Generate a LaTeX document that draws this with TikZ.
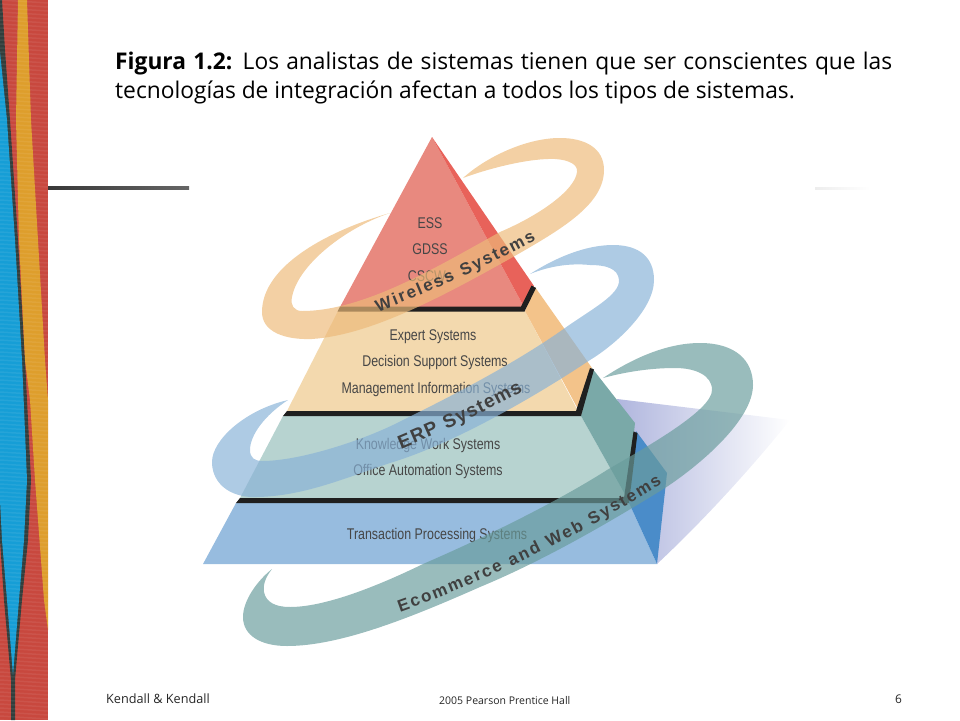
\documentclass[tikz,border=0pt]{standalone}
\usepackage{fontspec}
\setmainfont[FakeStretch=0.99]{Open Sans}
\newfontfamily\narrowfont[FakeStretch=0.80]{Liberation Sans}
\newfontfamily\ribbonfont{Liberation Sans}
\usetikzlibrary{decorations.text}
\definecolor{redfront}{RGB}{232,137,127}
\definecolor{redside}{RGB}{232,98,90}
\definecolor{orangefront}{RGB}{243,217,174}
\definecolor{orangeside}{RGB}{243,195,138}
\definecolor{tealfront}{RGB}{183,211,208}
\definecolor{tealside}{RGB}{122,169,168}
\definecolor{bluefront}{RGB}{151,188,223}
\definecolor{blueside}{RGB}{74,140,201}
\definecolor{shadowleft}{RGB}{176,182,222}
\definecolor{shadowmid}{RGB}{228,229,240}
\definecolor{wirelessband}{RGB}{237,186,121}
\definecolor{erpband}{RGB}{136,178,215}
\definecolor{ecomband}{RGB}{105,156,156}
\definecolor{clothred}{RGB}{200,72,62}
\definecolor{clothyellow}{RGB}{222,158,44}
\definecolor{clothblue}{RGB}{22,158,214}
\definecolor{clothdark}{RGB}{50,62,60}
\definecolor{labeltext}{RGB}{70,70,70}
\begin{document}
\begin{tikzpicture}[x=1pt,y=-1pt,
	pyrlabel/.style={text=labeltext,inner sep=0pt,font=\narrowfont\fontsize{15.5}{15.5}\selectfont},
	titleline/.style={anchor=base west,inner sep=0pt,font=\fontsize{23}{23}\selectfont},
	footer/.style={anchor=west,inner sep=0pt,text=black!85},
	ribbonlabel/.style 2 args={decorate,decoration={text along path,text align=fit to path,text color=black!75,text={|\ribbonfont\bfseries\fontsize{#1}{#1}\selectfont|#2}}},
	band/.style={fill=#1,fill opacity=.68}]
	\useasboundingbox (0,0) rectangle (960,720);
	\fill[clothred] (0,0) rectangle (48,720);
	\fill[clothdark] (0,0) -- (2,0) -- (5,50) -- (10,120) -- (18,240) -- (25,360) -- (31,480) -- (28,540) -- (22,600) -- (15,680) -- (15,720) -- (11,720) -- (11,680) -- (4,600) -- (0,540) -- (0,52) -- cycle;
	\fill[clothblue] (0,52) -- (7,120) -- (15,240) -- (22,360) -- (27,480) -- (24,540) -- (19,600) -- (13,675) -- (7,600) -- (2,540) -- (0,500) -- cycle;
	\fill[clothyellow] (18,0) -- (27,0) -- (31,120) -- (38,240) -- (45,360) -- (48,400) -- (48,630) -- (44,600) -- (35,480) -- (30,400) -- (25,360) -- (19,240) -- (16,120) -- cycle;
	\foreach \y in {0,4,...,720}
		\draw[white,opacity=.07,line width=1.5pt] (0,\y) -- (48,\y+3);
	\shade[left color=black!78,right color=black!60] (48,186.5) rectangle (189,189.5);
	\shade[left color=black!7,right color=white] (815,187) rectangle (870,189);

	\node[titleline] (title1) at (115,69) {\makebox[777pt][s]{\textbf{Figura 1.2:} Los analistas de sistemas tienen que ser conscientes que las}};
	\node[titleline] (title2) at (115,98) {tecnologías de integración afectan a todos los tipos de sistemas.};

	\shade[left color=shadowleft,middle color=shadowmid,right color=white] (617,399) -- (790,420) .. controls (770,445) and (720,505) .. (657,564) -- cycle;
	\fill[redfront] (432,137) -- (524,307) -- (340,307) -- cycle;
	\fill[redside] (432,137) -- (534,286) -- (524,307) -- cycle;
	\fill[orangefront] (338,311) -- (525,311) -- (578,411) -- (287,411) -- cycle;
	\fill[orangeside] (535,287) -- (592,368) -- (579,411) -- (525,311) -- cycle;
	\fill[tealfront] (283,416) -- (581,416) -- (627,498) -- (240,498) -- cycle;
	\fill[tealside] (592,368) -- (635,423) -- (627,498) -- (581,416) -- cycle;
	\fill[bluefront] (236,503) -- (629,503) -- (657,564) -- (203,564) -- cycle;
	\fill[blueside] (636,431) -- (667,473) -- (657,564) -- (629,503) -- cycle;
	\fill[black!88] (340,306.5) -- (521,306.5) -- (531.5,285.5) -- (536,288) -- (524.5,311.5) -- (337.5,311.5) -- cycle;
	\fill[black!88] (287,411) -- (576,411) -- (590,368) -- (594,369.5) -- (581,416) -- (283,416) -- cycle;
	\fill[black!88] (240,498) -- (624,498) -- (633.5,431.5) -- (637.5,433) -- (629,503) -- (236,503) -- cycle;

	\node[pyrlabel] (ess) at (430,223.5) {ESS};
	\node[pyrlabel] (gdss) at (430,249.5) {GDSS};
	\node[pyrlabel] (cscw) at (430,276.5) {CSCWs};
	\node[pyrlabel] (expert) at (433,336.5) {Expert Systems};
	\node[pyrlabel] (dss) at (435,362.5) {Decision Support Systems};
	\node[pyrlabel] (mis) at (436,389.5) {Management Information Systems};
	\node[pyrlabel] (kws) at (428,445.5) {Knowledge Work Systems};
	\node[pyrlabel] (oas) at (428,471.5) {Office Automation Systems};
	\node[pyrlabel] (tps) at (437,535.5) {Transaction Processing Systems};

	\fill[band=wirelessband] (390,213) .. controls (330,230) and (262,265) .. (262,312)
		.. controls (262,332) and (285,340) .. (312,339)
		.. controls (370,335) and (440,298) .. (513,257)
		.. controls (560,230) and (604,205) .. (604,170)
		.. controls (604,148) and (585,138) .. (560,138)
		.. controls (525,138) and (485,158) .. (463,178)
		.. controls (490,168) and (530,158) .. (555,159)
		.. controls (570,160) and (578,165) .. (577,172)
		.. controls (575,190) and (540,215) .. (500,232)
		.. controls (440,265) and (365,311) .. (302,311)
		.. controls (294,311) and (290,305) .. (292,297)
		.. controls (298,265) and (345,228) .. (390,213) -- cycle;
	\fill[band=erpband] (530,274) .. controls (555,258) and (585,245) .. (613,245)
		.. controls (640,245) and (654,258) .. (654,280)
		.. controls (654,310) and (615,345) .. (590,360)
		.. controls (530,400) and (450,445) .. (390,463)
		.. controls (345,478) and (300,498) .. (250,497)
		.. controls (225,495) and (212,480) .. (212,462)
		.. controls (212,440) and (245,410) .. (288,400)
		.. controls (265,415) and (250,435) .. (250,450)
		.. controls (250,458) and (255,461) .. (262,461)
		.. controls (300,461) and (365,440) .. (403,420)
		.. controls (460,392) and (520,360) .. (565,328)
		.. controls (590,310) and (620,295) .. (619,280)
		.. controls (618,268) and (605,265) .. (590,265)
		.. controls (570,263) and (550,266) .. (530,274) -- cycle;
	\fill[band=ecomband] (603,378) .. controls (630,360) and (665,343) .. (700,343)
		.. controls (735,343) and (753,360) .. (753,385)
		.. controls (753,420) and (700,465) .. (665,488)
		.. controls (610,522) and (545,560) .. (480,587)
		.. controls (410,618) and (340,646) .. (287,646)
		.. controls (260,646) and (243,635) .. (243,617)
		.. controls (243,600) and (258,580) .. (272,569)
		.. controls (265,578) and (263,585) .. (264,592)
		.. controls (266,602) and (275,607) .. (290,607)
		.. controls (330,607) and (390,580) .. (423,564)
		.. controls (490,535) and (560,500) .. (607,470)
		.. controls (650,445) and (712,410) .. (712,390)
		.. controls (712,375) and (695,368) .. (675,368)
		.. controls (650,368) and (625,372) .. (603,378) -- cycle;

	\path[ribbonlabel={17}{Wireless Systems}] (378,312) .. controls (430,292) and (485,268) .. (536,240);
	\path[ribbonlabel={19}{ERP Systems}] (401,449) .. controls (440,433) and (485,412) .. (523,391);
	\path[ribbonlabel={17}{Ecommerce and Web Systems}] (400,612) .. controls (490,580) and (580,535) .. (662,484);

	\node[footer,font=\fontsize{12.8}{12.8}\selectfont] (authors) at (106,699) {Kendall \& Kendall};
	\node[footer,font=\fontsize{10.6}{10.6}\selectfont] (publisher) at (439,701) {2005 Pearson Prentice Hall};
	\node[footer,font=\fontsize{12}{12}\selectfont] (pagenum) at (895,699) {6};
\end{tikzpicture}
\end{document}
